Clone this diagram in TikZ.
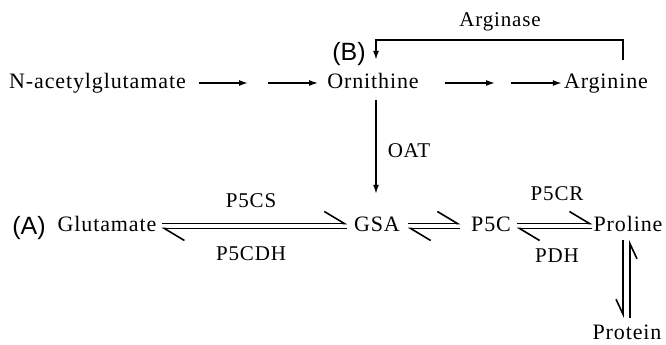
\documentclass[tikz,border=0pt]{standalone}
\usepackage{fontspec}
\setmainfont{Liberation Serif}
\newfontfamily\labfont[LetterSpace=4]{Liberation Serif}
\newfontfamily\tagfont{Liberation Sans}
\usetikzlibrary{arrows.meta}
\begin{document}
\begin{tikzpicture}[x=1pt,y=-1pt,
  lab/.style={font=\labfont\fontsize{22}{24}\selectfont, inner sep=0pt, text height=15pt, text depth=5pt, anchor=base},
  enz/.style={font=\labfont\fontsize{21}{23}\selectfont, inner sep=0pt, anchor=base},
  tag/.style={font=\tagfont\fontsize{25}{27}\selectfont, inner sep=0pt, anchor=base},
  fwd/.style={line width=1.5pt, -{Latex[length=9pt,width=6pt]}},
  eqline/.style={line width=1.6pt, -{Straight Barb[left,length=20pt,width=24pt]}},
  vdown/.style={line width=1.6pt, -{Straight Barb[right,length=15pt,width=14pt]}},
  vup/.style={line width=1.6pt, -{Straight Barb[right,length=15pt,width=14pt]}}]
\useasboundingbox (0,0) rectangle (666,345);

% metabolites
\node[lab] (nag) at (97.5,88) {N-acetylglutamate};
\node[lab] (orn) at (373,88) {Ornithine};
\node[lab] (arg) at (606,88) {Arginine};
\node[lab] (glu) at (107,231) {Glutamate};
\node[lab] (gsa) at (377,231) {GSA};
\node[lab] (p5c) at (491,231) {P5C};
\node[lab] (pro) at (628,231) {Proline};
\node[lab, text depth=0pt] (prot) at (627,339) {Protein};

% enzymes and tags
\node[enz] (argase) at (500,27) {Arginase};
\node[enz] (p5cs) at (251,207) {P5CS};
\node[enz] (p5cdh) at (251,260) {P5CDH};
\node[enz] (p5cr) at (557,200) {P5CR};
\node[enz] (pdh) at (557,262) {PDH};
\node[enz] (oat) at (409,157) {OAT};
\node[tag] (tagA) at (29,234) {(A)};
\node[tag] (tagB) at (349,60) {(B)};

% multi-step chains
\coordinate (c1) at (248,83);
\coordinate (c2) at (268,83);
\coordinate (c4) at (495,83);
\coordinate (c5) at (511,83);
\draw[fwd, shorten <=13pt] (nag.east) -- (c1);
\draw[fwd, shorten >=9pt] (c2) -- (orn.west);
\draw[fwd, shorten <=26pt] (orn.east) -- (c4);
\draw[fwd, shorten >=2pt] (c5) -- (arg.west);

% arginase loop
\draw[fwd] ([xshift=17pt,yshift=13pt]arg.north) -- ++(0,-20) -| ([xshift=3pt,yshift=13pt]orn.north);

% OAT
\draw[fwd] ([xshift=3pt,yshift=-7pt]orn.south) -- ([xshift=-1pt,yshift=22pt]gsa.north);

% equilibria
\draw[eqline] ([xshift=5pt,yshift=2.5pt]glu.east) -- ([xshift=-6.7pt,yshift=2.5pt]gsa.west);
\draw[eqline] ([xshift=-6.7pt,yshift=-2.5pt]gsa.west) -- ([xshift=5pt,yshift=-2.5pt]glu.east);
\draw[eqline] ([xshift=7.7pt,yshift=2.5pt]gsa.east) -- ([xshift=-10.7pt,yshift=2.5pt]p5c.west);
\draw[eqline] ([xshift=-10.7pt,yshift=-2.5pt]p5c.west) -- ([xshift=7.7pt,yshift=-2.5pt]gsa.east);
\draw[eqline] ([xshift=5.7pt,yshift=2.5pt]p5c.east) -- ([xshift=-1.1pt,yshift=2.5pt]pro.west);
\draw[eqline] ([xshift=-1.1pt,yshift=-2.5pt]pro.west) -- ([xshift=5.7pt,yshift=-2.5pt]p5c.east);

% proline <-> protein
\draw[vdown] ([xshift=-5pt,yshift=-4pt]pro.south) -- ([xshift=-4pt,yshift=6pt]prot.north);
\draw[vup] ([xshift=3pt,yshift=6pt]prot.north) -- ([xshift=2pt,yshift=-4pt]pro.south);
\end{tikzpicture}
\end{document}
